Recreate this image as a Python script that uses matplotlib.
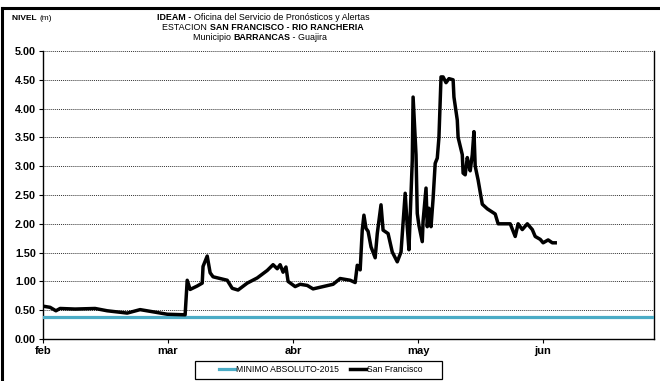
import matplotlib
matplotlib.use("Agg")
import matplotlib.pyplot as plt
from matplotlib.lines import Line2D
from matplotlib.patches import Rectangle

plt.rcParams["font.family"] = ["Liberation Sans", "DejaVu Sans"]
TITLE_FONT = ["Liberation Sans", "DejaVu Sans"]

# dias desde el 1 de febrero y nivel (m)
dias = [0, 1.7, 3.1, 4.1, 7.7, 12.5, 15.4, 20.2, 23.3, 29.8, 34.1, 34.6, 35.3,
        37.0, 38.2, 38.4, 39.4, 40.1, 40.8, 44.2, 45.4, 46.8, 49.0, 51.4, 53.8,
        55.2, 56.2, 56.9, 57.6, 58.3, 58.8, 60.5, 61.7, 63.4, 64.8, 67.2, 69.6,
        71.3, 73.7, 74.9, 75.4, 76.1, 76.6, 77.0, 77.5, 78.0, 78.7, 79.7, 80.2,
        81.1, 81.6, 82.8, 83.8, 85.0, 85.9, 86.9, 87.4, 87.8, 88.6, 88.8, 89.5,
        89.8, 90.2, 91.0, 91.2, 91.9, 92.2, 92.6, 93.1, 93.6, 94.1, 94.6, 95.0,
        95.5, 96.0, 96.7, 97.4, 98.4, 98.6, 99.4, 99.6, 100.6, 100.8, 101.3,
        101.8, 102.0, 102.5, 103.0, 103.4, 103.7, 104.4, 105.4, 106.6, 108.5,
        109.2, 112.1, 113.3, 114.0, 115.0, 116.2, 117.4, 118.1, 119.3, 120.0,
        121.2, 122.2, 122.9]
nivel = [0.57, 0.55, 0.49, 0.53, 0.52, 0.53, 0.49, 0.45, 0.51, 0.43, 0.42, 1.02,
         0.86, 0.92, 0.97, 1.26, 1.44, 1.15, 1.08, 1.02, 0.88, 0.85, 0.97, 1.06,
         1.19, 1.29, 1.22, 1.29, 1.16, 1.25, 1.00, 0.91, 0.95, 0.93, 0.87, 0.91,
         0.95, 1.05, 1.02, 0.98, 1.28, 1.20, 1.89, 2.15, 1.92, 1.87, 1.60, 1.41,
         1.83, 2.33, 1.89, 1.83, 1.51, 1.34, 1.51, 2.53, 1.95, 1.55, 3.10, 4.20,
         3.20, 2.18, 1.97, 1.69, 2.05, 2.62, 1.95, 2.27, 1.95, 2.44, 3.05, 3.14,
         3.50, 4.55, 4.55, 4.45, 4.52, 4.50, 4.20, 3.80, 3.50, 3.20, 2.88, 2.85,
         3.15, 3.08, 2.92, 3.20, 3.60, 3.00, 2.76, 2.34, 2.26, 2.17, 2.00, 2.00,
         1.78, 2.00, 1.90, 2.00, 1.90, 1.78, 1.73, 1.67, 1.72, 1.67, 1.67]
minimo = 0.38

meses = ["feb", "mar", "abr", "may", "jun"]
pos_meses = [0, 30, 60, 90, 120]
y_ticks = [0, 0.5, 1, 1.5, 2, 2.5, 3, 3.5, 4, 4.5, 5]

W, H = 660, 381
fig = plt.figure(figsize=(6.6, 3.81), dpi=100)
ax = fig.add_axes([43 / W, 1 - 339 / H, 611 / W, 288 / H])

ax.axhline(minimo, color="#4bacc6", lw=2.3, label="MINIMO ABSOLUTO-2015", zorder=3)
ax.plot(dias, nivel, color="black", lw=2.5, label="San Francisco", zorder=4)

ax.set_xlim(0, 146.6)
ax.set_ylim(0, 5)
ax.set_yticks(y_ticks)
ax.set_yticklabels(["%.2f" % v for v in y_ticks], fontsize=7.8, fontweight="bold")
ax.set_xticks(pos_meses)
ax.set_xticklabels(meses, fontsize=8, fontweight="bold")
ax.tick_params(axis="both", length=3, width=0.8, pad=2)
ax.grid(axis="y", color="#333333", lw=0.7, linestyle=(0, (1, 1)))
ax.spines["top"].set_visible(False)
for s in ["left", "bottom", "right"]:
    ax.spines[s].set_linewidth(1.0)

# leyenda: marco dibujado aparte, entradas centradas como en Excel
fig.add_artist(Rectangle((195 / W, 1 - 379 / H), 247 / W, 18 / H, transform=fig.transFigure,
                         fill=False, edgecolor="black", lw=0.9))
fig.legend(loc="center left", bbox_to_anchor=(219 / W, 1 - 370 / H), ncol=2,
           fontsize=6.2, frameon=False, handlelength=1.9, handletextpad=0.05,
           columnspacing=1.3, borderpad=0, borderaxespad=0)

# titulo con partes en negrita
renderer = fig.canvas.get_renderer()


def mixed_line(parts, xc, y, size=6.4, family=TITLE_FONT):
    widths = []
    for txt, w in parts:
        t = fig.text(0, 0, txt, fontsize=size, fontweight=w, family=family)
        widths.append(t.get_window_extent(renderer).width)
        t.remove()
    x = xc - sum(widths) / 2
    for (txt, w), wd in zip(parts, widths):
        fig.text(x / W, y, txt, fontsize=size, fontweight=w, family=family,
                 va="center", ha="left")
        x += wd


mixed_line([("IDEAM - ", "bold"), ("Oficina del Servicio de Pronósticos y Alertas", "normal")],
           263, 1 - 17 / H)
mixed_line([("ESTACION ", "normal"), ("SAN FRANCISCO - RIO RANCHERIA", "bold")],
           263, 1 - 27 / H)
mixed_line([("Municipio ", "normal"), ("BARRANCAS", "bold"), (" - Guajira", "normal")],
           260, 1 - 37 / H)
mixed_line([("NIVEL ", "bold"), ("(m)", "normal")], 32, 1 - 18 / H, size=6)

# marco exterior
fig.add_artist(Line2D([2 / W, 1.0], [1 - 8 / H, 1 - 8 / H], color="black", lw=2.2))
fig.add_artist(Line2D([2 / W, 2 / W], [0, 1 - 8 / H], color="black", lw=2.2))

fig.savefig("out.png", dpi=100)
